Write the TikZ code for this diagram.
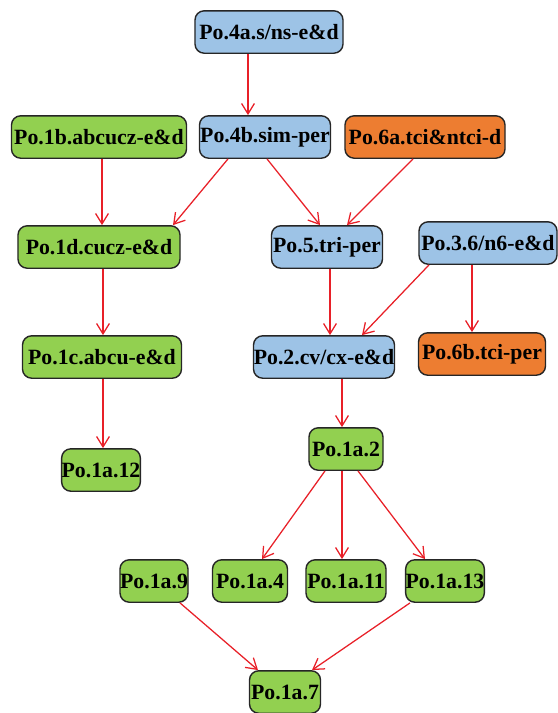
\documentclass[tikz,border=0pt]{standalone}
\usepackage{fontspec}
\setmainfont{Liberation Serif}
\usetikzlibrary{arrows.meta,calc}
\definecolor{poblue}{RGB}{157,195,230}
\definecolor{pogreen}{RGB}{146,208,80}
\definecolor{poorange}{RGB}{237,125,49}
\definecolor{pored}{RGB}{232,32,40}
\begin{document}
\begin{tikzpicture}[x=0.025cm,y=-0.025cm,
	pobox/.style={draw=black!85,line width=1pt,rounded corners=2.3mm,
		minimum height=10.6mm,inner sep=0pt,
		font=\fontsize{15.5}{18}\selectfont\bfseries},
	blue/.style={pobox,fill=poblue},
	green/.style={pobox,fill=pogreen},
	orange/.style={pobox,fill=poorange},
	link/.style={draw=pored,line width=0.9pt,-{Straight Barb[length=2.6mm,width=3.2mm]}}]
		\useasboundingbox (0,0) rectangle (558,713);
		% boxes
		\node[blue,minimum width=37mm] (p4a) at (269,32) {Po.4a.s/ns-e\&d};
		\node[green,minimum width=43.75mm] (p1b) at (99,137) {Po.1b.abcucz-e\&d};
		\node[blue,minimum width=32.75mm] (p4b) at (265,137) {Po.4b.sim-per};
		\node[orange,minimum width=40mm] (p6a) at (425,137) {Po.6a.tci\&ntci-d};
		\node[green,minimum width=40.5mm] (p1d) at (99,247) {Po.1d.cucz-e\&d};
		\node[blue,minimum width=27.75mm] (p5) at (327,247) {Po.5.tri-per};
		\node[blue,minimum width=34.5mm] (p36) at (488,243) {Po.3.6/n6-e\&d};
		\node[green,minimum width=39.75mm] (p1c) at (102,357) {Po.1c.abcu-e\&d};
		\node[blue,minimum width=35.25mm] (p2) at (324,357) {Po.2.cv/cx-e\&d};
		\node[orange,minimum width=31.75mm] (p6b) at (482,354) {Po.6b.tci-per};
		\node[green,minimum width=19mm] (p1a12) at (101,470) {Po.1a.12};
		\node[green,minimum width=18.5mm] (p1a2) at (346,449) {Po.1a.2};
		\node[green,minimum width=17mm] (p1a9) at (154,581) {Po.1a.9};
		\node[green,minimum width=18.75mm] (p1a4) at (250,581) {Po.1a.4};
		\node[green,minimum width=20mm] (p1a11) at (346,581) {Po.1a.11};
		\node[green,minimum width=19mm] (p1a13) at (445,581) {Po.1a.13};
		\node[green,minimum width=17.75mm] (p1a7) at (285,692) {Po.1a.7};
		% arrows
		\draw[link] ($(p4a.south)+(-21,0)$) -- ($(p4b.north)+(-17,0)$);
		\draw[link] ($(p1b.south)+(3,0)$) -- ($(p1d.north)+(3,0)$);
		\draw[link] ($(p4b.south)+(-37,0)$) -- ($(p1d.north)+(74,0)$);
		\draw[link] ($(p4b.south)+(2,0)$) -- ($(p5.north)+(-7,0)$);
		\draw[link] ($(p6a.south)+(-12,0)$) -- ($(p5.north)+(20,0)$);
		\draw[link] ($(p1d.south)+(4,0)$) -- ($(p1c.north)+(1,0)$);
		\draw[link] ($(p1c.south)+(1,0)$) -- ($(p1a12.north)+(2,0)$);
		\draw[link] ($(p5.south)+(3,0)$) -- ($(p2.north)+(6,0)$);
		\draw[link] ($(p36.south)+(-59,0)$) -- ($(p2.north)+(38,0)$);
		\draw[link] ($(p36.south)+(-16,0)$) -- ($(p6b.north)+(-10,0)$);
		\draw[link] ($(p2.south)+(18,0)$) -- ($(p1a2.north)+(-4,0)$);
		\draw[link] ($(p1a2.south)+(-21,0)$) -- ($(p1a4.north)+(12,0)$);
		\draw[link] ($(p1a2.south)+(-4,0)$) -- ($(p1a11.north)+(-4,0)$);
		\draw[link] ($(p1a2.south)+(12,0)$) -- ($(p1a13.north)+(-20,0)$);
		\draw[link] ($(p1a9.south)+(26,0)$) -- ($(p1a7.north)+(-27,0)$);
		\draw[link] ($(p1a13.south)+(-35,0)$) -- ($(p1a7.north)+(27,0)$);
	\end{tikzpicture}
\end{document}
